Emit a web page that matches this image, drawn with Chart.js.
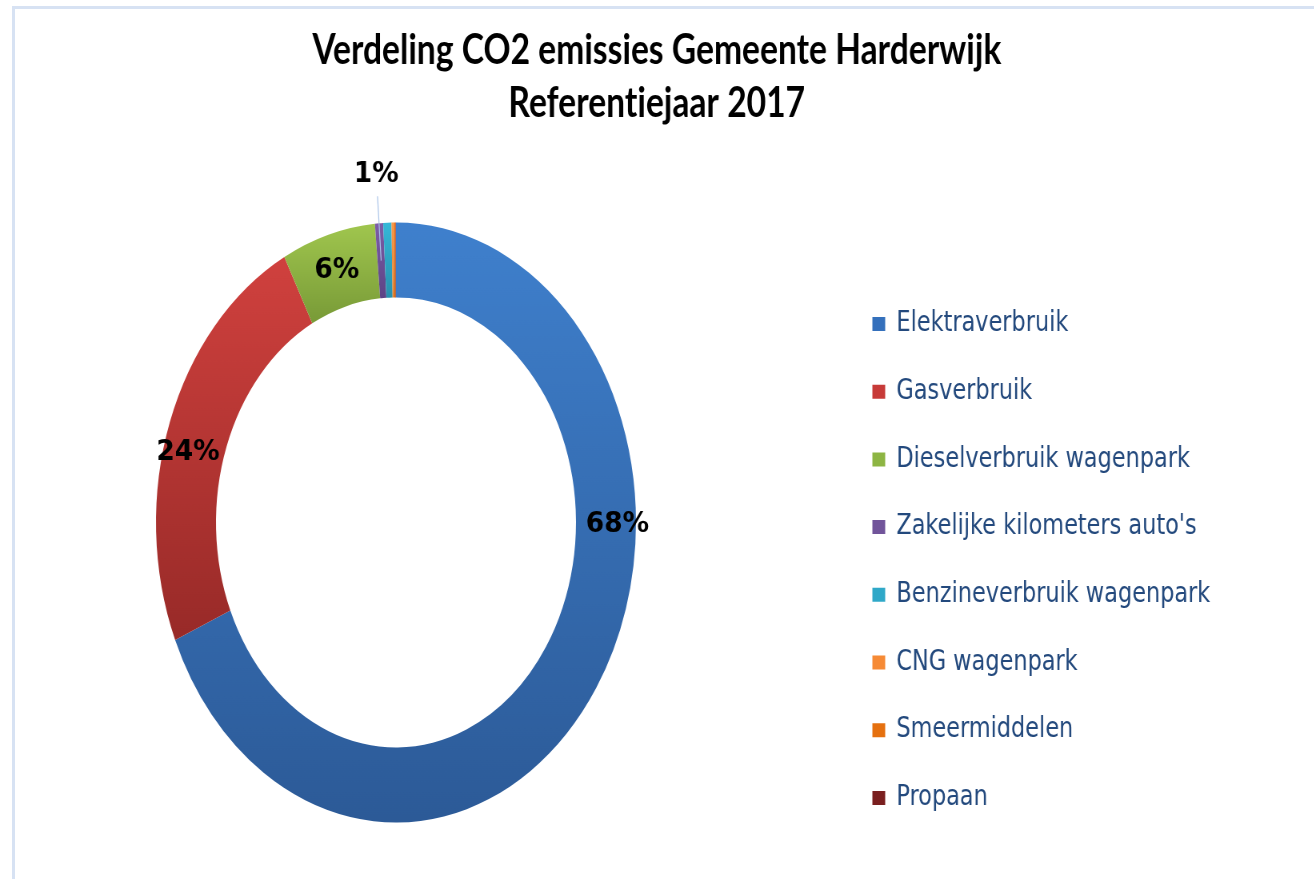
<!DOCTYPE html>
<html>
<head>
<meta charset="utf-8">
<script src="https://cdn.jsdelivr.net/npm/chart.js@4.4.1/dist/chart.umd.min.js"></script>
<style>
  html, body { margin: 0; padding: 0; background: #ffffff; overflow: hidden; }
  #frame { position: absolute; left: 12px; top: 6px; right: -10px; bottom: -10px;
           border-top: 3px solid #D7E2F3; border-left: 3px solid #D7E2F3; }
  #wrap { position: absolute; left: 0; top: 0; width: 1642px; height: 879px;
          transform: scaleX(0.8); transform-origin: 0 0; }
</style>
</head>
<body>
<div id="frame"></div>
<div id="wrap"><canvas id="c" width="1642" height="879"></canvas></div>
<script>
// ---- data ----
const titleLines = ['Verdeling CO2 emissies Gemeente Harderwijk', 'Referentiejaar 2017'];
const categories = ['Elektraverbruik', 'Gasverbruik', 'Dieselverbruik wagenpark',
  "Zakelijke kilometers auto's", 'Benzineverbruik wagenpark', 'CNG wagenpark',
  'Smeermiddelen', 'Propaan'];
const shares = [68.6, 23.7, 6.3, 0.55, 0.55, 0.15, 0.12, 0.03];
const percentLabels = ['68%', '24%', '6%', '1%', '', '', '', ''];

// ---- styles ----
const topColors    = ['#3F80CD', '#D0413E', '#A0C64E', '#7D5EA8', '#36B8D8', '#F89A4C', '#EE7A1C', '#8B2525'];
const bottomColors = ['#2C5A97', '#982A28', '#789A37', '#5C4385', '#2790AD', '#E07F2C', '#D0620B', '#6E1A1A'];
const legendColors = ['#3470BC', '#C73A38', '#8DB543', '#71549A', '#2FA8C8', '#F68A35', '#E5700F', '#7A1F1F'];
const OUTER_R = 300;
const CUTOUT = 0.75;

function sliceGradient(context) {
  const chart = context.chart;
  const area = chart.chartArea;
  const i = context.dataIndex;
  if (!area || i === undefined) return topColors[i || 0];
  const cx = (area.left + area.right) / 2;
  const cy = (area.top + area.bottom) / 2;
  const total = shares.reduce((a, b) => a + b, 0);
  const start = shares.slice(0, i).reduce((a, b) => a + b, 0) / total;
  const end = start + shares[i] / total;
  let minY = Infinity, maxY = -Infinity;
  for (let k = 0; k <= 60; k++) {
    const a = (start + (end - start) * k / 60) * 2 * Math.PI;
    for (const r of [OUTER_R, OUTER_R * CUTOUT]) {
      const y = cy - r * Math.cos(a);
      minY = Math.min(minY, y); maxY = Math.max(maxY, y);
    }
  }
  if (maxY - minY < 1) maxY = minY + 1;
  const g = chart.ctx.createLinearGradient(0, minY, 0, maxY);
  g.addColorStop(0, topColors[i]);
  g.addColorStop(1, bottomColors[i]);
  return g;
}

// percentage labels at the slices
const sliceLabels = {
  id: 'sliceLabels',
  afterDatasetsDraw(chart, args, opts) {
    const ctx = chart.ctx;
    const arcs = chart.getDatasetMeta(0).data;
    percentLabels.forEach((txt, i) => {
      if (!txt) return;
      const p = arcs[i].getProps(['x', 'y', 'startAngle', 'endAngle', 'innerRadius', 'outerRadius'], true);
      const s = opts.shifts[i] || {};
      const ang = (p.startAngle + p.endAngle) / 2 + (s.dAngle || 0) * Math.PI / 180;
      const rMid = (p.innerRadius + p.outerRadius) / 2;
      const r = rMid * (s.rScale || 1);
      ctx.save();
      if (s.leader) {
        ctx.strokeStyle = opts.leaderColor;
        ctx.lineWidth = 1.2;
        ctx.beginPath();
        ctx.moveTo(p.x + Math.cos(ang) * (r - 22), p.y + Math.sin(ang) * (r - 22));
        ctx.lineTo(p.x + Math.cos(ang) * rMid, p.y + Math.sin(ang) * rMid);
        ctx.stroke();
      }
      ctx.font = opts.font;
      ctx.fillStyle = opts.color;
      ctx.textAlign = 'center';
      ctx.textBaseline = 'middle';
      ctx.translate(p.x + Math.cos(ang) * r, p.y + Math.sin(ang) * r);
      ctx.scale(opts.stretch, 1);
      ctx.fillText(txt, 0, 0);
      ctx.restore();
    });
  }
};

// place title across the full width and the legend block at its spot on the right
const boxPlacement = {
  id: 'boxPlacement',
  afterLayout(chart, args, opts) {
    const lg = chart.legend;
    if (lg) {
      lg.left = opts.legendLeft; lg.right = chart.width; lg.width = lg.right - lg.left;
      lg.top = opts.legendTop; lg.bottom = chart.height; lg.height = lg.bottom - lg.top;
    }
    const tt = chart.titleBlock;
    if (tt) { tt.left = opts.titleLeft; tt.right = chart.width - opts.titleLeft; tt.width = tt.right - tt.left; }
  },
  beforeDraw(chart) {
    // plain glyphs (no "ti" ligature) as in the original
    const ctx = chart.ctx;
    if ('textRendering' in ctx) ctx.textRendering = 'optimizeSpeed';
  }
};

Chart.defaults.font.family = '"DejaVu Sans", sans-serif';

new Chart(document.getElementById('c'), {
  type: 'doughnut',
  data: {
    labels: categories,
    datasets: [{
      data: shares,
      backgroundColor: sliceGradient,
      borderWidth: 0,
      radius: OUTER_R,
      cutout: (CUTOUT * 100) + '%',
      clip: false
    }]
  },
  options: {
    responsive: false,
    animation: false,
    events: [],
    layout: { padding: { left: 0, right: 352, top: 0, bottom: 30.4 } },
    plugins: {
      title: {
        display: true,
        text: titleLines,
        color: '#000000',
        font: { family: 'Lato, "Open Sans", sans-serif', weight: 'bold', size: 42, lineHeight: '53px' },
        padding: { top: 23.5, bottom: 66.9 }
      },
      legend: {
        display: true,
        position: 'right',
        align: 'start',
        maxWidth: 300,
        labels: {
          boxWidth: 16,
          boxHeight: 14,
          padding: 39.7,
          color: '#23497D',
          textAlign: 'left',
          font: { family: '"DejaVu Sans", sans-serif', size: 28 },
          generateLabels: () => categories.map((t, i) => ({
            text: t, fillStyle: legendColors[i], strokeStyle: legendColors[i],
            lineWidth: 0, hidden: false, index: i, fontColor: '#23497D', textAlign: 'left'
          }))
        }
      },
      tooltip: { enabled: false },
      boxPlacement: { legendLeft: 1050.8, legendTop: 270.3, titleLeft: 2 },
      sliceLabels: {
        font: 'bold 29px "DejaVu Sans", sans-serif',
        stretch: 1.14,
        color: '#000000',
        leaderColor: '#A9C3E8',
        shifts: {
          0: { dAngle: -33, rScale: 1.055 },
          1: { dAngle: -4.6, rScale: 1.025 },
          3: { rScale: 1.33, leader: true }
        }
      }
    }
  },
  plugins: [sliceLabels, boxPlacement]
});
</script>
</body>
</html>
